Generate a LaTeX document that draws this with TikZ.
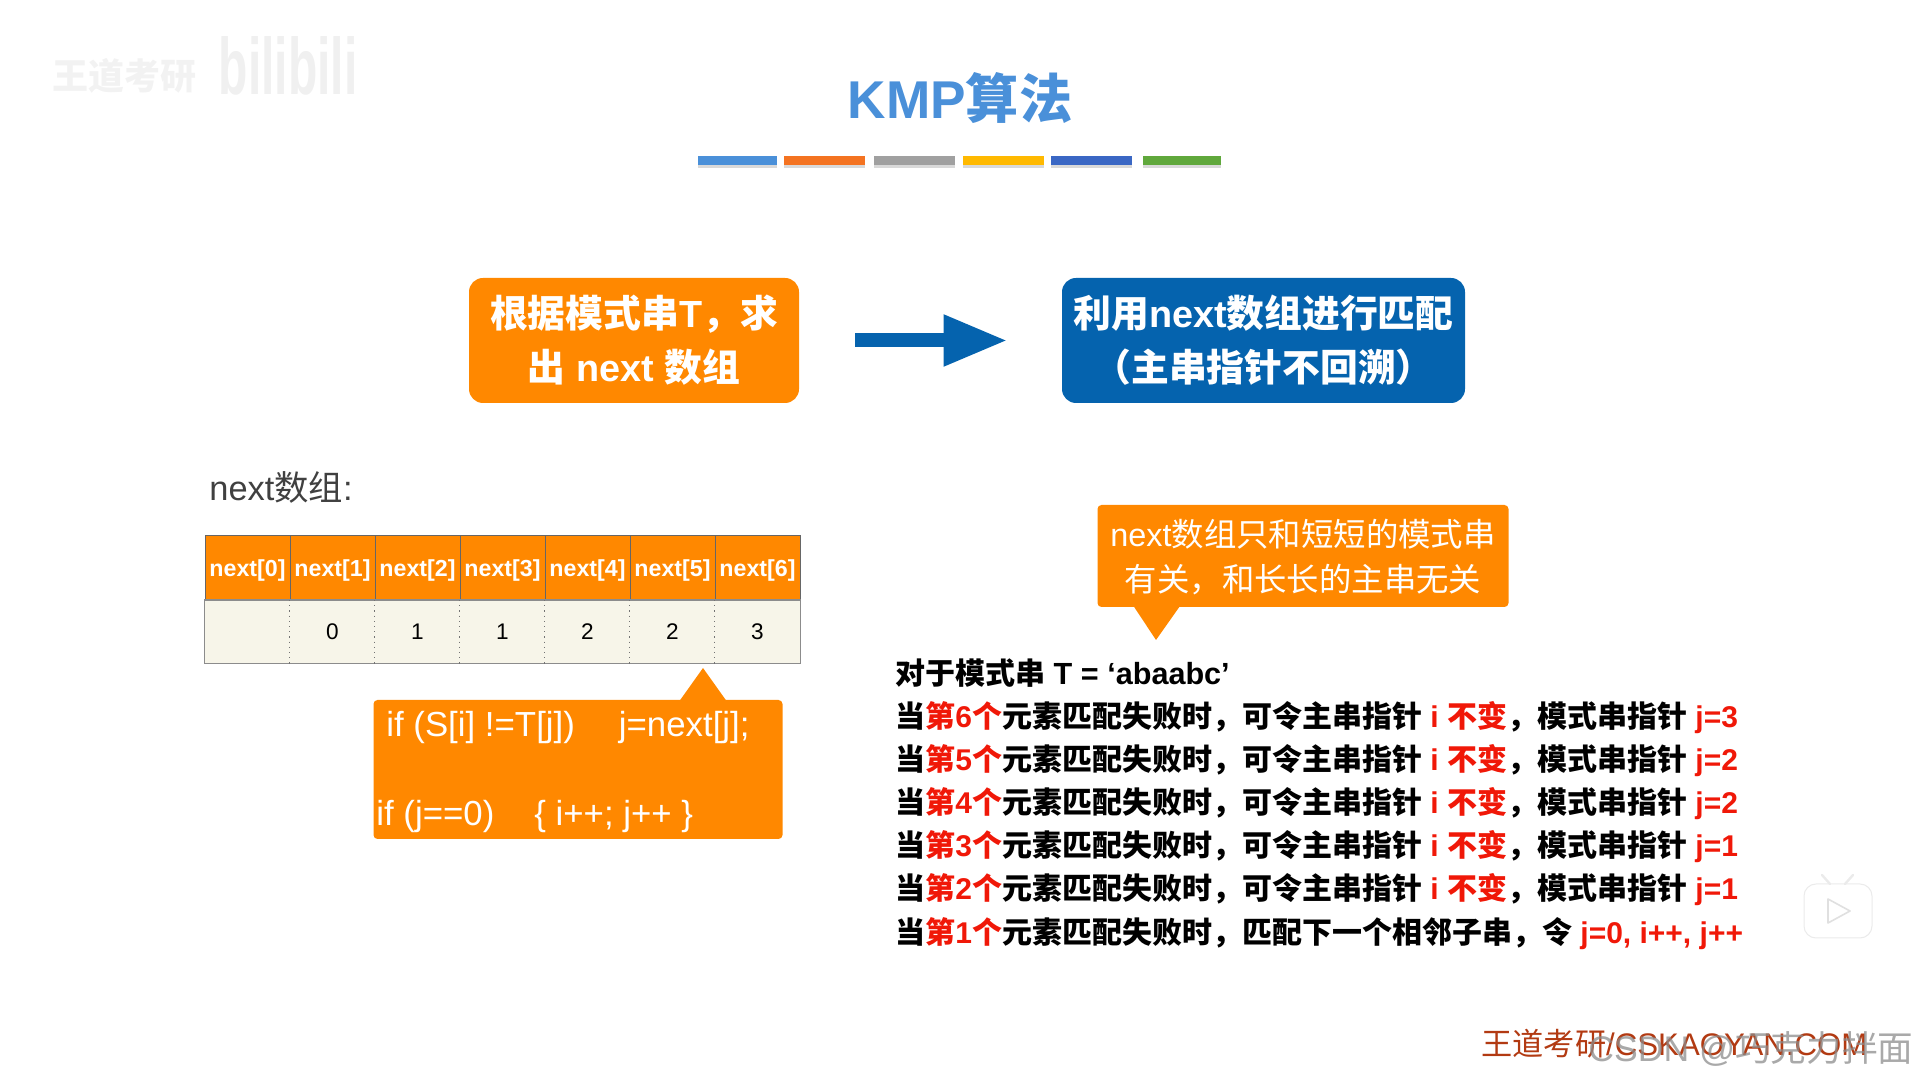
\documentclass[tikz,border=0pt]{standalone}
\usepackage{fontspec}
\usepackage{xcolor}
\usetikzlibrary{arrows.meta, positioning, calc, shadows}
\setmainfont{Liberation Sans}
\newfontfamily\cjk{Noto Sans CJK SC}
\newcommand{\hz}[1]{{\cjk #1}}
%% full-width punctuation
\newcommand{\qcomma}{\char"FF0C\relax}
\newcommand{\qopen}{\char"FF08\relax}
\newcommand{\qclose}{\char"FF09\relax}
\definecolor{kmporange}{HTML}{FF8800}
\definecolor{kmpblue}{HTML}{0563AE}
\definecolor{kmptitle}{HTML}{4A90D9}
\definecolor{cellcream}{HTML}{F7F5E9}
\definecolor{alertred}{HTML}{F01808}
\definecolor{footred}{HTML}{B23A12}
\definecolor{barorange}{HTML}{F47321}
\definecolor{bargray}{HTML}{A0A0A0}
\definecolor{baryellow}{HTML}{FFB900}
\definecolor{barblue}{HTML}{3A67C4}
\definecolor{bargreen}{HTML}{60A83C}
\newcommand{\alert}[1]{\textcolor{alertred}{#1}}
%% one line of the rule list: element number, new value of j
\newcommand{\failrow}[2]{\hz{当}\alert{\hz{第}#1\hz{个}}\hz{元素匹配失败时\qcomma 可令主串指针} \alert{i \hz{不变}}\hz{\qcomma 模式串指针} \alert{j=#2}}

\begin{document}
\begin{tikzpicture}[
  x=0.5pt, y=-0.5pt,
  %% Node styles
  titletext/.style ={font=\fontsize{26.6}{30}\selectfont\bfseries, text=kmptitle, inner sep=0pt},
  colorbar/.style  ={minimum height=4.5pt, inner sep=0pt,
                     drop shadow={shadow xshift=0pt, shadow yshift=-1.6pt, opacity=0.3}},
  bigbox/.style    ={rounded corners=7pt, minimum height=62.5pt,
                     align=center, inner sep=0pt, font=\fontsize{18.9}{22}\selectfont\bfseries, text=white},
  headcell/.style  ={draw=black!60, fill=kmporange, line width=0.5pt, minimum width=42.5pt,
                     minimum height=32pt, inner sep=0pt, text=white, text height=10.5pt, text depth=1.6pt,
                     font=\fontsize{11.6}{14}\selectfont\bfseries},
  valcell/.style   ={fill=cellcream, minimum width=42.5pt, minimum height=31.5pt,
                     inner sep=0pt, font=\fontsize{11.3}{13}\selectfont},
  codebox/.style   ={fill=kmporange, rounded corners=2pt, inner sep=0pt},
  codetext/.style  ={anchor=base west, inner sep=0pt, text=white, font=\fontsize{17.4}{20}\selectfont},
  notetext/.style  ={inner sep=0pt, text=white, font=\fontsize{16.2}{19}\selectfont},
  rowtext/.style   ={anchor=base west, inner sep=0pt, font=\fontsize{15}{17}\selectfont\bfseries},
  %% Arrows
  bigarr/.style    ={-{Triangle[length=32pt, width=24pt]}, line width=7pt, kmpblue,
                     shorten <=28pt, shorten >=27pt}
]
\useasboundingbox (0,0) rectangle (1919,1079);

%% -- WATERMARK TOP LEFT --
\node[inner sep=0pt, text=black!5, font=\fontsize{18}{20}\selectfont\bfseries] (wmname) at (125,76) {\hz{王道考研}};
\node[inner sep=0pt, text=black!6, font=\fontsize{40}{44}\selectfont\bfseries] (wmlogo) at (288,66) {\scalebox{0.6}[1]{bilibili}};

%% -- TITLE --
\node[titletext] (title) at (960,98) {KMP\hz{算法}};

\node[colorbar, fill=kmptitle, minimum width=39.5pt]  (bar1) at (737.5,160.5) {};
\node[colorbar, fill=barorange, minimum width=40.5pt] (bar2) at (824.5,160.5) {};
\node[colorbar, fill=bargray, minimum width=40.5pt]   (bar3) at (914.5,160.5) {};
\node[colorbar, fill=baryellow, minimum width=40.5pt] (bar4) at (1003.5,160.5) {};
\node[colorbar, fill=barblue, minimum width=40.5pt]   (bar5) at (1091.5,160.5) {};
\node[colorbar, fill=bargreen, minimum width=39pt]    (bar6) at (1182,160.5) {};

%% -- TWO STEPS --
\node[bigbox, fill=kmporange, minimum width=165pt] (nextbox) at (634,340.5) {\hz{根据模式串}T\hz{\qcomma 求}\\[5pt]\hz{出} next \hz{数组}};
\node[bigbox, fill=kmpblue, minimum width=201.5pt] (matchbox) at (1263.5,340.5) {\hz{利用}next\hz{数组进行匹配}\\[5pt]\hz{\qopen 主串指针不回溯\qclose}};

\draw[bigarr] (nextbox.east) -- (matchbox.west);

%% -- NEXT ARRAY --
\node[anchor=base west, inner sep=0pt, text=black!75, font=\fontsize{17.2}{20}\selectfont] (arrlabel) at (209,501) {next\hz{数组}:};

\node[headcell] (h0) at (247.5,568) {next[0]};
\node[headcell] (h1) at (332.5,568) {next[1]};
\node[headcell] (h2) at (417.5,568) {next[2]};
\node[headcell] (h3) at (502.5,568) {next[3]};
\node[headcell] (h4) at (587.5,568) {next[4]};
\node[headcell] (h5) at (672.5,568) {next[5]};
\node[headcell] (h6) at (757.5,568) {next[6]};

\node[valcell] (v0) at (247.5,632) {};
\node[valcell] (v1) at (332.5,632) {0};
\node[valcell] (v2) at (417.5,632) {1};
\node[valcell] (v3) at (502.5,632) {1};
\node[valcell] (v4) at (587.5,632) {2};
\node[valcell] (v5) at (672.5,632) {2};
\node[valcell] (v6) at (757.5,632) {3};

\draw[black!45, line width=0.6pt] (v0.north west) rectangle (v6.south east);
\draw[black!55, dotted, line width=0.6pt] (v1.north west) -- (v1.south west);
\draw[black!55, dotted, line width=0.6pt] (v2.north west) -- (v2.south west);
\draw[black!55, dotted, line width=0.6pt] (v3.north west) -- (v3.south west);
\draw[black!55, dotted, line width=0.6pt] (v4.north west) -- (v4.south west);
\draw[black!55, dotted, line width=0.6pt] (v5.north west) -- (v5.south west);
\draw[black!55, dotted, line width=0.6pt] (v6.north west) -- (v6.south west);

%% -- CODE CALLOUT --
\node[codebox, minimum width=204.5pt, minimum height=69.5pt] (codebox) at (578,769.5) {};
\coordinate (codetip) at (703,668);
\fill[kmporange] (codetip) -- (726.5,701) -- (679.5,701) -- cycle;
\node[codetext] (code1) at (386,737) {if (S[i] !=T[j])\hspace{22pt}j=next[j];};
\node[codetext] (code2) at (376,826) {if (j==0)\hspace{20pt}\{ i++; j++ \}};

%% -- NOTE CALLOUT --
\node[codebox, minimum width=205.5pt, minimum height=51pt] (notebox) at (1303,556) {};
\coordinate (notetip) at (1156,640);
\fill[kmporange] (notetip) -- (1133.5,606) -- (1180,606) -- cycle;
\node[notetext] (note1) at (1303,534) {next\hz{数组只和短短的模式串}};
\node[notetext] (note2) at (1303,580) {\hz{有关\qcomma 和长长的主串无关}};

%% -- MATCH RULES --
\node[rowtext] (row0) at (895,685) {\hz{对于模式串} {\fontsize{15.3}{17}\selectfont T = ‘abaabc’}};
\node[rowtext] (row6) at (895,728) {\failrow{6}{3}};
\node[rowtext] (row5) at (895,771) {\failrow{5}{2}};
\node[rowtext] (row4) at (895,814) {\failrow{4}{2}};
\node[rowtext] (row3) at (895,857) {\failrow{3}{1}};
\node[rowtext] (row2) at (895,900) {\failrow{2}{1}};
\node[rowtext] (row1) at (895,943) {\hz{当}\alert{\hz{第}1\hz{个}}\hz{元素匹配失败时\qcomma 匹配下一个相邻子串\qcomma 令} \alert{j=0, i++, j++}};

%% -- PLAY ICON --
\node[draw=black!8, fill=white, rounded corners=6pt, line width=0.5pt, minimum width=34pt, minimum height=27pt, inner sep=0pt] (tvbody) at (1838,911) {};
\draw[black!8, line width=1.2pt, line cap=round] (1822,875) -- (1830,884);
\draw[black!8, line width=1.2pt, line cap=round] (1853,875) -- (1845,884);
\draw[black!12, line width=0.8pt, line join=round] (1828,899) -- (1828,923) -- (1850,911) -- cycle;

%% -- FOOTER --
\node[anchor=base west, inner sep=0pt, text=footred, font=\fontsize{15.6}{18}\selectfont] (footer) at (1481,1055) {\hz{王道考研}/CSKAOYAN.COM};
\node[anchor=base west, inner sep=0pt, text=black!45, opacity=0.75, font=\fontsize{17.8}{20}\selectfont] (csdn) at (1588,1061) {CSDN @\hz{巧克力拌面}};

\end{tikzpicture}
\end{document}
